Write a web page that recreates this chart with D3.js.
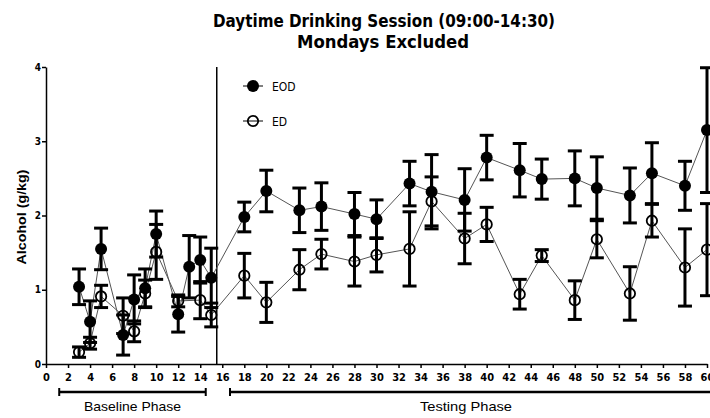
<!DOCTYPE html>
<html>
<head>
<meta charset="utf-8">
<script src="https://cdn.jsdelivr.net/npm/d3@7"></script>
<style>
  body { margin: 0; background: #fff; }
  svg { display: block; }
</style>
</head>
<body>
<div id="chart"></div>
<script>
// session days and mean alcohol intake (g/kg) with SEM
let eodDays = [3, 4, 5, 7, 8, 9, 10, 12, 13, 14, 15, 18, 20, 23, 25, 28, 30, 33, 35, 38, 40, 43, 45, 48, 50, 53, 55, 58, 60];
let eodMean = [1.04, 0.57, 1.55, 0.39, 0.87, 1.02, 1.75, 0.67, 1.31, 1.40, 1.16, 1.98, 2.33, 2.07, 2.12, 2.02, 1.95, 2.43, 2.32, 2.21, 2.78, 2.61, 2.49, 2.50, 2.37, 2.27, 2.57, 2.40, 3.15];
let eodSem  = [0.24, 0.28, 0.28, 0.27, 0.33, 0.26, 0.31, 0.24, 0.42, 0.31, 0.40, 0.20, 0.28, 0.30, 0.32, 0.29, 0.26, 0.30, 0.50, 0.42, 0.30, 0.36, 0.27, 0.37, 0.42, 0.37, 0.41, 0.33, 0.84];

let edDays = [3, 4, 5, 7, 8, 9, 10, 12, 14, 15, 18, 20, 23, 25, 28, 30, 33, 35, 38, 40, 43, 45, 48, 50, 53, 55, 58, 60];
let edMean = [0.16, 0.28, 0.91, 0.65, 0.44, 0.95, 1.51, 0.85, 0.86, 0.66, 1.19, 0.83, 1.27, 1.48, 1.38, 1.47, 1.55, 2.19, 1.69, 1.88, 0.94, 1.46, 0.86, 1.68, 0.95, 1.93, 1.30, 1.54];
let edSem  = [0.07, 0.08, 0.15, 0.24, 0.14, 0.18, 0.37, 0.08, 0.25, 0.16, 0.30, 0.27, 0.27, 0.20, 0.33, 0.23, 0.50, 0.33, 0.34, 0.23, 0.20, 0.08, 0.26, 0.25, 0.36, 0.22, 0.52, 0.62];

let xTicks = d3.range(0, 61, 2);
let yTicks = [0, 1, 2, 3, 4];
let phaseNames = ["Baseline Phase", "Testing Phase"];
let phaseStart = [1.2, 16.7];
let phaseEnd = [14.5, 61.5];
let dividerDay = 15.5;

let narrow = "'Liberation Sans Narrow', 'Arial Narrow', 'DejaVu Sans Condensed', sans-serif";

let svg = d3.select("div#chart")
    .append("svg")
    .attr("width", 710)
    .attr("height", 418);

let x = d3.scaleLinear().domain([0, 60]).range([46, 707]);
let y = d3.scaleLinear().domain([0, 4]).range([364, 67]);

function zip(days, mean, sem) {
    return days.map(function(d, i) { return {x: d, y: mean[i], e: sem[i]}; });
}
let eod = zip(eodDays, eodMean, eodSem);
let ed = zip(edDays, edMean, edSem);

// title
svg.append("text")
    .attr("x", 384).attr("y", 27)
    .attr("text-anchor", "middle")
    .attr("font-family", narrow).attr("font-weight", "bold").attr("font-size", 18)
    .attr("textLength", 342).attr("lengthAdjust", "spacingAndGlyphs")
    .text("Daytime Drinking Session (09:00-14:30)");
svg.append("text")
    .attr("x", 383).attr("y", 48)
    .attr("text-anchor", "middle")
    .attr("font-family", narrow).attr("font-weight", "bold").attr("font-size", 18)
    .attr("textLength", 172).attr("lengthAdjust", "spacingAndGlyphs")
    .text("Mondays Excluded");

// axes
let xAxis = svg.append("g")
    .attr("transform", "translate(0," + y(0) + ")")
    .call(d3.axisBottom(x).tickValues(xTicks).tickSize(4).tickSizeOuter(0));
xAxis.selectAll("text")
    .attr("font-family", narrow).attr("font-weight", "bold").attr("font-size", 11)
    .attr("dy", "0.95em");

let yAxis = svg.append("g")
    .attr("transform", "translate(" + x(0) + ",0)")
    .call(d3.axisLeft(y).tickValues(yTicks).tickFormat(d3.format("d")).tickSize(4).tickSizeOuter(0));
yAxis.selectAll("text")
    .attr("font-family", narrow).attr("font-weight", "bold").attr("font-size", 10)
    .attr("x", -5);

svg.selectAll(".domain").attr("stroke", "#000").attr("stroke-width", 1.5);
svg.selectAll(".tick line").attr("stroke", "#000").attr("stroke-width", 1.5);

svg.append("text")
    .attr("transform", "translate(26," + 217 + ") rotate(-90)")
    .attr("text-anchor", "middle")
    .attr("font-family", "'Liberation Sans', Arial, sans-serif").attr("font-weight", "bold").attr("font-size", 13)
    .attr("textLength", 95).attr("lengthAdjust", "spacingAndGlyphs")
    .text("Alcohol (g/kg)");

// phase divider
svg.append("line")
    .attr("x1", x(dividerDay)).attr("x2", x(dividerDay))
    .attr("y1", y(4)).attr("y2", y(0))
    .attr("stroke", "#000").attr("stroke-width", 1.5);

// phase brackets
phaseNames.forEach(function(name, i) {
    let g = svg.append("g");
    g.append("line")
        .attr("x1", x(phaseStart[i])).attr("x2", x(phaseEnd[i]))
        .attr("y1", 392).attr("y2", 392)
        .attr("stroke", "#000").attr("stroke-width", 2.5);
    [phaseStart[i], phaseEnd[i]].forEach(function(v) {
        g.append("line")
            .attr("x1", x(v)).attr("x2", x(v))
            .attr("y1", 388).attr("y2", 396)
            .attr("stroke", "#000").attr("stroke-width", 2);
    });
    let mid = i === 0 ? (x(phaseStart[i]) + x(phaseEnd[i])) / 2 : 466;
    g.append("text")
        .attr("x", mid).attr("y", 411)
        .attr("text-anchor", "middle")
        .attr("font-family", "'Liberation Sans', Arial, sans-serif").attr("font-size", 13)
        .attr("textLength", i === 0 ? 97 : 92).attr("lengthAdjust", "spacingAndGlyphs")
        .text(name);
});

let line = d3.line()
    .x(function(d) { return x(d.x); })
    .y(function(d) { return y(d.y); });

[eod, ed].forEach(function(series) {
    svg.append("path")
        .datum(series)
        .attr("fill", "none")
        .attr("stroke", "#555")
        .attr("stroke-width", 1)
        .attr("d", line);
});

function errorBars(series) {
    let g = svg.append("g")
        .attr("stroke", "#000")
        .attr("stroke-width", 3);
    let bars = g.selectAll("g")
        .data(series)
        .enter()
        .append("g");
    bars.append("line")
        .attr("x1", function(d) { return x(d.x); })
        .attr("x2", function(d) { return x(d.x); })
        .attr("y1", function(d) { return y(Math.min(4, d.y + d.e)); })
        .attr("y2", function(d) { return y(d.y - d.e); });
    bars.append("line")
        .attr("x1", function(d) { return x(d.x) - 7; })
        .attr("x2", function(d) { return x(d.x) + 7; })
        .attr("y1", function(d) { return y(Math.min(4, d.y + d.e)); })
        .attr("y2", function(d) { return y(Math.min(4, d.y + d.e)); });
    bars.append("line")
        .attr("x1", function(d) { return x(d.x) - 7; })
        .attr("x2", function(d) { return x(d.x) + 7; })
        .attr("y1", function(d) { return y(d.y - d.e); })
        .attr("y2", function(d) { return y(d.y - d.e); });
}
errorBars(eod);
errorBars(ed);

svg.append("g")
    .selectAll("circle")
    .data(eod)
    .enter()
    .append("circle")
    .attr("cx", function(d) { return x(d.x); })
    .attr("cy", function(d) { return y(d.y); })
    .attr("r", 6)
    .attr("fill", "#000");

svg.append("g")
    .selectAll("circle")
    .data(ed)
    .enter()
    .append("circle")
    .attr("cx", function(d) { return x(d.x); })
    .attr("cy", function(d) { return y(d.y); })
    .attr("r", 5.2)
    .attr("fill", "none")
    .attr("stroke", "#000")
    .attr("stroke-width", 1.8);

// legend
let legend = svg.append("g");
[["EOD", true, 86], ["ED", false, 121]].forEach(function(item) {
    legend.append("line")
        .attr("x1", 243).attr("x2", 263)
        .attr("y1", item[2]).attr("y2", item[2])
        .attr("stroke", "#000").attr("stroke-width", 1);
    legend.append("circle")
        .attr("cx", 253).attr("cy", item[2])
        .attr("r", item[1] ? 6 : 5.2)
        .attr("fill", item[1] ? "#000" : "none")
        .attr("stroke", "#000").attr("stroke-width", item[1] ? 0 : 1.8);
    legend.append("text")
        .attr("x", 272).attr("y", item[2] + 4.5)
        .attr("font-family", narrow).attr("font-size", 12)
        .text(item[0]);
});
</script>
</body>
</html>
